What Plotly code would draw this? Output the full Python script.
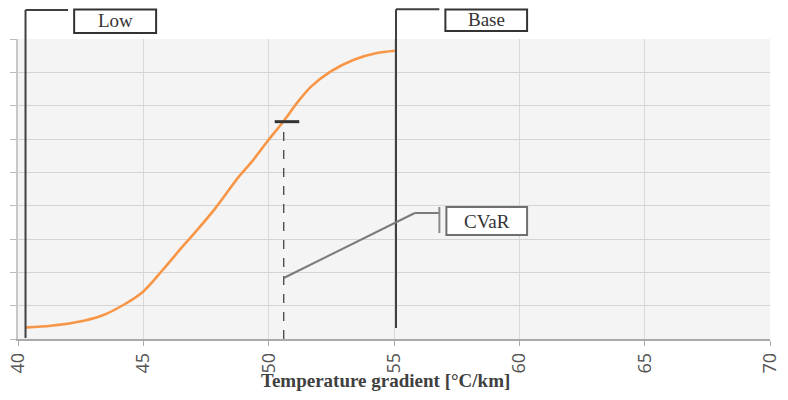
import plotly.graph_objects as go

# Curve (CDF-like)
gradient = [40.33, 41.31, 42.63, 43.41, 44.20, 44.99, 45.77, 46.56, 47.09, 47.87,
            48.81, 49.33, 49.99, 50.58, 51.17, 51.69, 52.48, 53.40, 54.32, 55.04]
level = [0.35, 0.40, 0.55, 0.72, 1.02, 1.42, 2.07, 2.77, 3.22, 3.92,
         4.87, 5.32, 5.97, 6.52, 7.12, 7.57, 8.03, 8.38, 8.58, 8.65]

low_x = 40.3
base_x = 55.08
cvar_x = 50.6
cvar_y = 6.52
x_ticks = [40, 45, 50, 55, 60, 65, 70]
x_title = "<b>Temperature gradient [°C/km]</b>"

fig = go.Figure()
fig.add_trace(go.Scatter(x=gradient, y=level, mode="lines",
                         line=dict(color="#f79646", width=2.6, shape="spline", smoothing=0.8),
                         hoverinfo="skip", showlegend=False))

dark = "#404040"
shapes = []
# Low marker line + leader
shapes.append(dict(type="line", xref="x", yref="y", x0=low_x, x1=low_x, y0=0.03, y1=9, line=dict(color=dark, width=2)))
shapes.append(dict(type="line", xref="x", yref="paper", x0=low_x, x1=low_x, y0=1.0, y1=1.097, line=dict(color=dark, width=2)))
shapes.append(dict(type="line", xref="x", yref="paper", x0=low_x, x1=42.0, y0=1.097, y1=1.097, line=dict(color=dark, width=2)))
shapes.append(dict(type="rect", xref="x", yref="paper", x0=42.24, x1=45.51, y0=1.02, y1=1.098,
                   line=dict(color="#333333", width=2), fillcolor="white"))
# Base marker line + leader
shapes.append(dict(type="line", xref="x", yref="y", x0=base_x, x1=base_x, y0=0.33, y1=9, line=dict(color=dark, width=2)))
shapes.append(dict(type="line", xref="x", yref="paper", x0=base_x, x1=base_x, y0=1.0, y1=1.099, line=dict(color=dark, width=2)))
shapes.append(dict(type="line", xref="x", yref="paper", x0=base_x, x1=56.81, y0=1.099, y1=1.099, line=dict(color=dark, width=2)))
shapes.append(dict(type="rect", xref="x", yref="paper", x0=57.05, x1=60.31, y0=1.027, y1=1.098,
                   line=dict(color="#333333", width=2), fillcolor="white"))
# CVaR marker
shapes.append(dict(type="line", xref="x", yref="y", x0=50.24, x1=51.22, y0=cvar_y, y1=cvar_y, line=dict(color="#333333", width=3)))
shapes.append(dict(type="line", xref="x", yref="y", x0=cvar_x, x1=cvar_x, y0=0, y1=cvar_y, line=dict(color="#444444", width=1.3, dash="dash")))
shapes.append(dict(type="line", xref="x", yref="y", x0=cvar_x, x1=55.83, y0=1.83, y1=3.78, line=dict(color="#7a7a7a", width=2)))
shapes.append(dict(type="line", xref="x", yref="y", x0=55.83, x1=56.81, y0=3.78, y1=3.78, line=dict(color="#7a7a7a", width=2)))
shapes.append(dict(type="line", xref="x", yref="y", x0=56.81, x1=56.81, y0=3.18, y1=3.96, line=dict(color="#8a8a8a", width=2)))
shapes.append(dict(type="rect", xref="x", yref="y", x0=57.09, x1=60.31, y0=3.12, y1=3.96,
                   line=dict(color="#6f6f6f", width=2), fillcolor="white"))

tfont = dict(family="Liberation Serif", size=19, color="#333333")
annotations = [
    dict(text="Low", xref="x", yref="paper", x=43.87, y=1.062, showarrow=False, font=tfont,
         xanchor="center", yanchor="middle"),
    dict(text="Base", xref="x", yref="paper", x=58.68, y=1.065, showarrow=False, font=tfont,
         xanchor="center", yanchor="middle"),
    dict(text="CVaR", xref="x", yref="y", x=58.7, y=3.54, showarrow=False, font=tfont,
         xanchor="center", yanchor="middle"),
    dict(text=x_title, xref="paper", yref="paper", x=0.489, y=-0.137, showarrow=False,
         xanchor="center", yanchor="middle",
         font=dict(family="Liberation Serif", size=19, color="#404040")),
]

# page body has an 8px margin, so the figure is 16px smaller than the window
fig.update_layout(
    width=772, height=384,
    margin=dict(l=10, r=10, t=31, b=53, autoexpand=False),
    paper_bgcolor="white", plot_bgcolor="#f4f4f4",
    shapes=shapes, annotations=annotations,
    showlegend=False,
    xaxis=dict(range=[40, 70], tickvals=x_ticks, ticktext=[str(v) for v in x_ticks],
               tickangle=-90, ticks="outside", ticklen=5, tickcolor="#aaaaaa",
               ticklabeloverflow="allow",
               showline=True, linecolor="#aaaaaa", linewidth=1.5, automargin=False,
               gridcolor="#d9d9d9", gridwidth=1, zeroline=False,
               tickfont=dict(family="Open Sans", size=18, color="#555555")),
    yaxis=dict(range=[0, 9], dtick=1, showticklabels=False, ticks="outside", ticklen=6,
               tickcolor="#bbbbbb", showline=True, linecolor="#c8c8c8", linewidth=1.5,
               automargin=False,
               gridcolor="#d4d4d4", gridwidth=1, zeroline=False),
)

fig.write_html("out.html")
